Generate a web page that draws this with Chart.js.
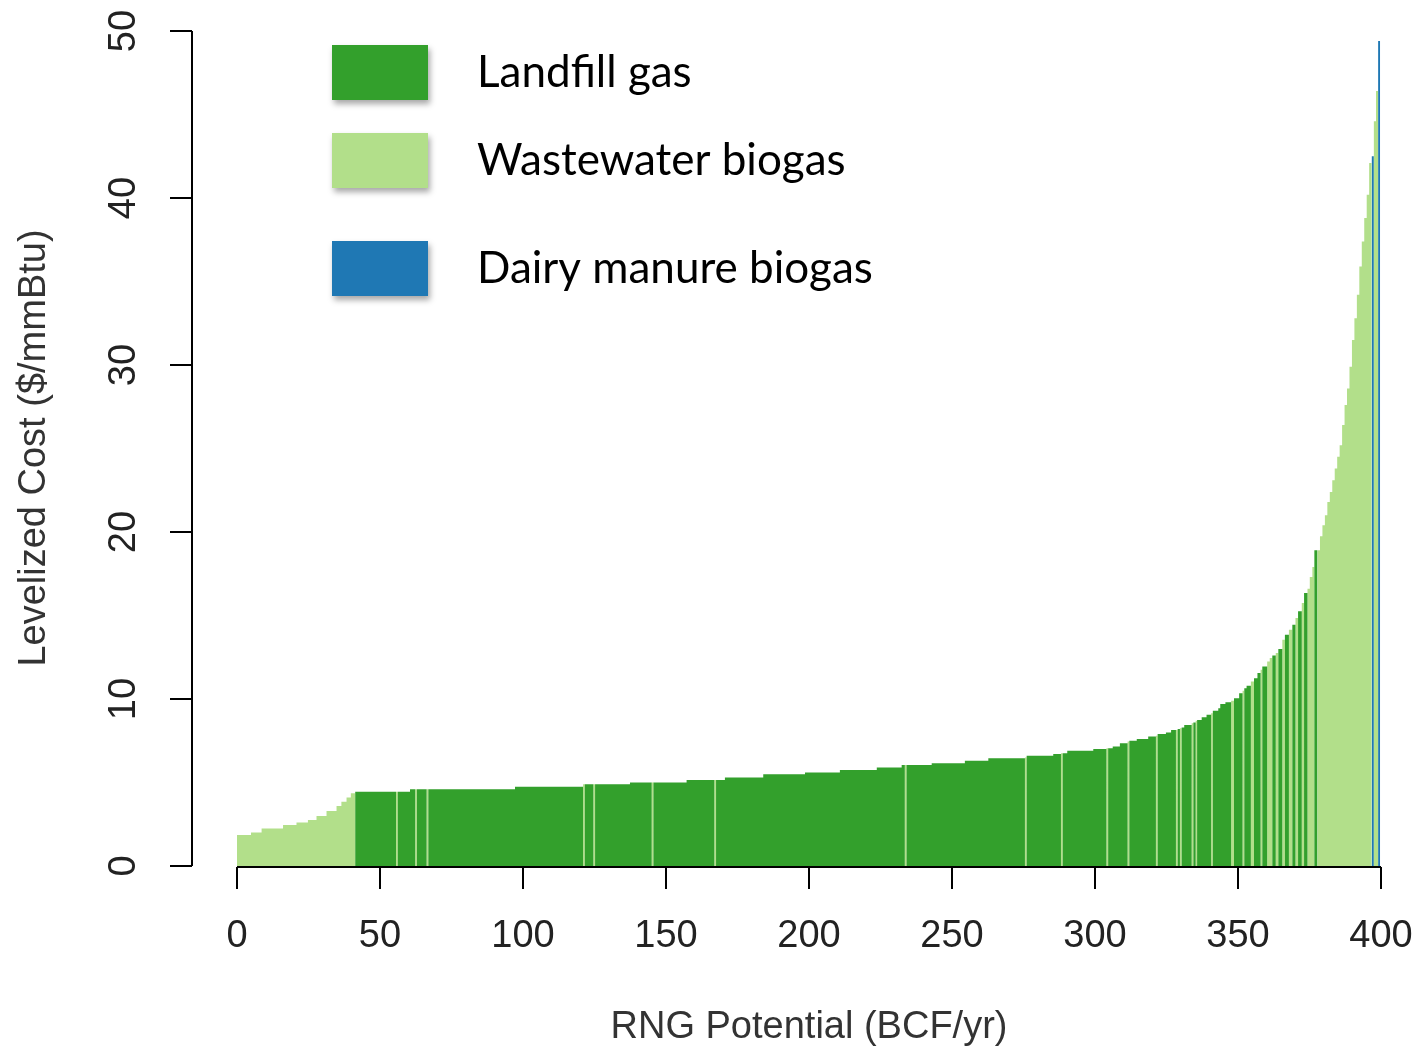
<!DOCTYPE html>
<html>
<head>
<meta charset="utf-8">
<script src="https://cdn.jsdelivr.net/npm/chart.js@4.4.1/dist/chart.umd.min.js"></script>
<style>
  html, body { margin: 0; padding: 0; background: #ffffff; }
  #wrap { width: 1426px; height: 1051px; }
</style>
</head>
<body>
<div id="wrap"><canvas id="supply" width="1426" height="1051"></canvas></div>
<script>
// RNG supply curve: facilities sorted by levelized cost, each drawn as a
// rectangle whose width is its annual potential and whose height is its cost.
const sourceCodes  = ['L', 'W', 'D'];
const sourceNames  = ['Landfill gas', 'Wastewater biogas', 'Dairy manure biogas'];
const sourceColors = ['#33a02c', '#b2df8a', '#1f78b4'];

// one entry per facility, in supply-curve order
const facilitySource = [
  'W','W','W','W','W','W','W','W','W','W','W','W',
  'L','W','L','L','W','L','W','L','L','W','L','W','L','L','W','L','L','W','L',
  'L','L','L','L','L','L','W','L','L','L','L','W','L','L','W','L','L','L','W',
  'L','L','L','W','L','L','L','W','L','L','L','W','L','W','L','L','W','L','W',
  'L','L','L','W','L','L','L','L','W','L','L','W','L','L','W','L','L','W','L',
  'W','W','L','W','L','W','L','W','L','W','L','W','L','W','W','W','L',
  'W','W','W','W','W','W','W','W','W','W','W','W','W','W','W','W','W','W','W','W','W','W',
  'D','W','W','D'
];
// BCF/yr
const facilityVolume = [
  4.9, 3.7, 7.5, 4.7, 4.0, 3.0, 3.5, 3.5, 1.7, 1.8, 1.5, 1.5,
  14.3, 0.6, 4.3, 1.8, 0.6, 3.4, 0.6, 30.3, 23.8, 0.6, 3.0, 0.6, 12.2, 7.6, 0.6, 11.6, 9.7, 0.6, 3.1,
  13.4, 14.6, 12.2, 12.9, 8.7, 1.1, 0.6, 8.8, 11.6, 8.2, 12.8, 0.6, 9.3, 2.7, 0.6, 1.6, 9.1, 4.6, 0.6,
  1.6, 2.5, 2.7, 0.6, 2.6, 4.0, 2.7, 0.6, 2.9, 1.8, 1.7, 0.6, 0.8, 0.6, 0.9, 2.6, 0.6, 0.8, 0.5,
  1.6, 1.7, 1.6, 0.6, 1.9, 0.7, 1.8, 2.0, 1.0, 1.8, 1.2, 0.6, 0.8, 1.5, 1.1, 1.2, 1.1, 0.6, 1.7,
  0.9, 0.9, 1.2, 0.9, 1.4, 0.9, 1.4, 1.2, 1.1, 0.9, 1.3, 0.8, 1.2, 0.8, 0.9, 0.7, 1.1,
  0.86, 0.86, 0.86, 0.86, 0.86, 0.86, 0.86, 0.86, 0.86, 0.86, 0.86,
  0.86, 0.86, 0.86, 0.86, 0.86, 0.86, 0.86, 0.86, 0.86, 0.86, 0.84,
  0.8, 0.75, 0.75, 0.7
];
// $/mmBtu
const facilityCost = [
  1.85, 2.0, 2.25, 2.45, 2.6, 2.75, 3.0, 3.3, 3.6, 3.85, 4.1, 4.35,
  4.45, 4.45, 4.45, 4.6, 4.6, 4.6, 4.6, 4.6, 4.75, 4.9, 4.9, 4.9, 4.9, 5.0, 5.0, 5.0, 5.15, 5.15, 5.15,
  5.3, 5.5, 5.6, 5.75, 5.9, 6.05, 6.05, 6.05, 6.15, 6.3, 6.45, 6.5, 6.6, 6.7, 6.75, 6.75, 6.9, 7.0, 7.05,
  7.05, 7.15, 7.35, 7.45, 7.5, 7.6, 7.75, 7.8, 7.9, 8.0, 8.15, 8.15, 8.2, 8.25, 8.3, 8.45, 8.55, 8.6, 8.7,
  8.75, 8.9, 9.05, 9.15, 9.3, 9.45, 9.7, 9.8, 9.9, 10.05, 10.35, 10.5, 10.65, 10.8, 11.05, 11.25, 11.55, 11.75, 11.95,
  12.25, 12.45, 12.6, 12.75, 13.0, 13.55, 13.85, 14.15, 14.45, 14.85, 15.25, 15.75, 16.35, 16.6, 17.3, 17.9, 18.9,
  18.9, 19.75, 20.4, 21.0, 21.8, 22.4, 23.1, 23.8, 24.5, 25.2, 26.4,
  27.6, 28.6, 29.9, 31.5, 32.8, 34.2, 35.9, 37.4, 38.8, 40.2, 42.1,
  42.5, 44.6, 46.4, 49.4
];

const xTicks = [0, 50, 100, 150, 200, 250, 300, 350, 400];
const yTicks = [0, 10, 20, 30, 40, 50];
const xTitle = 'RNG Potential (BCF/yr)';
const yTitle = 'Levelized Cost ($/mmBtu)';

// one filled outline per source; consecutive rectangles are joined along y = 0
const datasets = sourceCodes.map((code, k) => ({
  label: sourceNames[k],
  data: [],
  backgroundColor: sourceColors[k],
  borderColor: 'rgba(0,0,0,0)',
  borderWidth: 0,
  pointRadius: 0,
  pointHoverRadius: 0,
  fill: 'origin',
  tension: 0
}));
let cum = 0;
facilitySource.forEach((code, i) => {
  const pts = datasets[sourceCodes.indexOf(code)].data;
  const x0 = cum, x1 = cum + facilityVolume[i], c = facilityCost[i];
  pts.push({ x: x0, y: 0 }, { x: x0, y: c }, { x: x1, y: c }, { x: x1, y: 0 });
  cum = x1;
});

const TICK_FONT = '38px "Liberation Sans", Arial, sans-serif';

// base-graphics style axes, drawn from the chart's own scales
const axesPlugin = {
  id: 'baseAxes',
  afterDraw(chart) {
    const { ctx, scales: { x, y } } = chart;
    const axisX = 192, axisY = 867, tick = 22;
    ctx.save();
    ctx.strokeStyle = '#000';
    ctx.lineWidth = 2;
    ctx.lineCap = 'butt';

    // y axis
    ctx.beginPath();
    ctx.moveTo(axisX, y.getPixelForValue(yTicks[0]));
    ctx.lineTo(axisX, y.getPixelForValue(yTicks[yTicks.length - 1]));
    yTicks.forEach(v => {
      const py = y.getPixelForValue(v);
      ctx.moveTo(axisX, py);
      ctx.lineTo(axisX - tick, py);
    });
    ctx.stroke();

    // x axis
    ctx.beginPath();
    ctx.moveTo(x.getPixelForValue(xTicks[0]), axisY);
    ctx.lineTo(x.getPixelForValue(xTicks[xTicks.length - 1]), axisY);
    xTicks.forEach(v => {
      const px = x.getPixelForValue(v);
      ctx.moveTo(px, axisY);
      ctx.lineTo(px, axisY + tick);
    });
    ctx.stroke();

    ctx.fillStyle = '#222';
    ctx.font = TICK_FONT;
    ctx.textAlign = 'center';
    ctx.textBaseline = 'middle';
    xTicks.forEach(v => ctx.fillText(String(v), x.getPixelForValue(v), 937));
    yTicks.forEach(v => {
      ctx.save();
      ctx.translate(125, y.getPixelForValue(v));
      ctx.rotate(-Math.PI / 2);
      ctx.fillText(String(v), 0, 0);
      ctx.restore();
    });

    ctx.fillStyle = '#333';
    ctx.fillText(xTitle, (x.left + x.right) / 2, 1028);
    ctx.save();
    ctx.translate(35, 448);
    ctx.rotate(-Math.PI / 2);
    ctx.fillText(yTitle, 0, 0);
    ctx.restore();
    ctx.restore();
  }
};

// legend boxes with a soft drop shadow
const legendPlugin = {
  id: 'boxLegend',
  afterDraw(chart) {
    const { ctx } = chart;
    const tops = [45, 133, 241];
    ctx.save();
    chart.data.datasets.forEach((ds, i) => {
      ctx.save();
      ctx.shadowColor = 'rgba(0,0,0,0.35)';
      ctx.shadowBlur = 6;
      ctx.shadowOffsetX = 2;
      ctx.shadowOffsetY = 4;
      ctx.fillStyle = ds.backgroundColor;
      ctx.fillRect(332, tops[i], 96, 55);
      ctx.restore();
      ctx.fillStyle = '#000';
      ctx.font = '44px Lato, "Open Sans", sans-serif';
      ctx.textAlign = 'left';
      ctx.textBaseline = 'middle';
      ctx.fillText(ds.label, 477, tops[i] + 28);
    });
    ctx.restore();
  }
};

new Chart(document.getElementById('supply'), {
  type: 'line',
  data: { datasets },
  options: {
    responsive: false,
    animation: false,
    events: [],
    layout: { padding: { left: 237, right: 45, top: 31, bottom: 185 } },
    scales: {
      x: { type: 'linear', min: 0, max: 400, display: false },
      y: { type: 'linear', min: 0, max: 50, display: false }
    },
    plugins: {
      legend: { display: false },
      tooltip: { enabled: false }
    }
  },
  plugins: [axesPlugin, legendPlugin]
});
</script>
</body>
</html>
